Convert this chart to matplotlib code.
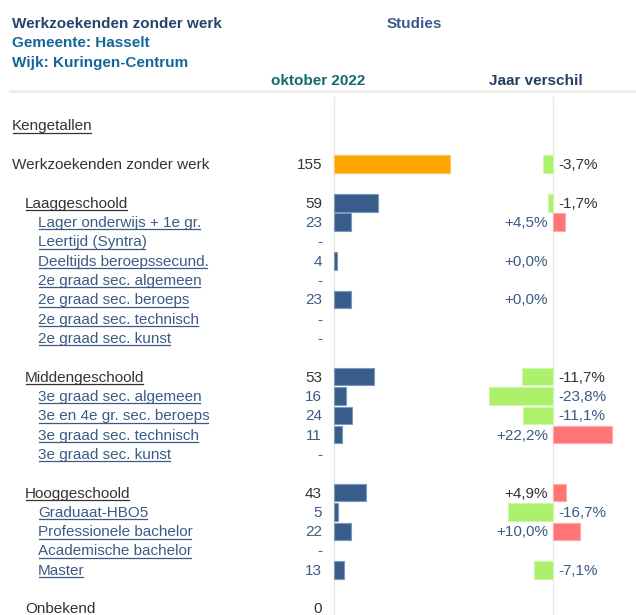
import matplotlib.pyplot as plt
from matplotlib.lines import Line2D

plt.rcParams["font.family"] = ["Liberation Sans", "DejaVu Sans"]

# rows of the table (row index = line position, blanks between groups)
labels = ["Kengetallen", "Werkzoekenden zonder werk",
          "Laaggeschoold", "Lager onderwijs + 1e gr.", "Leertijd (Syntra)",
          "Deeltijds beroepssecund.", "2e graad sec. algemeen",
          "2e graad sec. beroeps", "2e graad sec. technisch", "2e graad sec. kunst",
          "Middengeschoold", "3e graad sec. algemeen", "3e en 4e gr. sec. beroeps",
          "3e graad sec. technisch", "3e graad sec. kunst",
          "Hooggeschoold", "Graduaat-HBO5", "Professionele bachelor",
          "Academische bachelor", "Master",
          "Onbekend"]
rows = [0, 2, 4, 5, 6, 7, 8, 9, 10, 11, 13, 14, 15, 16, 17, 19, 20, 21, 22, 23, 25]
levels = [0, 0, 1, 2, 2, 2, 2, 2, 2, 2, 1, 2, 2, 2, 2, 1, 2, 2, 2, 2, 1]
underlined = [True, False, True, True, True, True, True, True, True, True,
              True, True, True, True, True, True, True, True, True, True, False]
counts = [None, 155, 59, 23, None, 4, None, 23, None, None,
          53, 16, 24, 11, None, 43, 5, 22, None, 13, 0]
diffs = [None, -3.7, -1.7, 4.5, None, 0.0, None, 0.0, None, None,
         -11.7, -23.8, -11.1, 22.2, None, 4.9, -16.7, 10.0, None, -7.1, None]

DARK = "#333333"
LINK = "#3b5b86"
W, H = 636, 615
BASE = 0.25  # text baseline below the row centre, in rows

fig = plt.figure(figsize=(W / 100, H / 100), dpi=100)

# one row = 19.33 px, row 0 sits at 125.4 px from the top
ylim = ((H - 125.4) / 19.33, -125.4 / 19.33)

ax_txt = fig.add_axes([0, 0, 1, 1])
ax_txt.set_xlim(0, W)
ax_txt.set_ylim(*ylim)
ax_txt.axis("off")

ax_cnt = fig.add_axes([0, 0, 1, 1])
ax_cnt.set_xlim(-334 / 0.75, (W - 334) / 0.75)
ax_cnt.set_ylim(*ylim)
ax_cnt.axis("off")

ax_dif = fig.add_axes([0, 0, 1, 1])
ax_dif.set_xlim(-553 / 2.68, (W - 553) / 2.68)
ax_dif.set_ylim(*ylim)
ax_dif.axis("off")

# header
fig.text(12 / W, 1 - 27.5 / H, "Werkzoekenden zonder werk", fontsize=11,
         fontweight="bold", color="#23466b", va="baseline")
fig.text(12 / W, 1 - 47 / H, "Gemeente: Hasselt", fontsize=11,
         fontweight="bold", color="#14679a", va="baseline")
fig.text(12 / W, 1 - 66.5 / H, "Wijk: Kuringen-Centrum", fontsize=11,
         fontweight="bold", color="#14679a", va="baseline")
fig.text(414 / W, 1 - 27.5 / H, "Studies", fontsize=11, fontweight="bold",
         color="#3a5a8a", va="baseline", ha="center")
fig.text(318 / W, 1 - 85 / H, "oktober 2022", fontsize=11, fontweight="bold",
         color="#136c6c", va="baseline", ha="center")
fig.text(536 / W, 1 - 85 / H, "Jaar verschil", fontsize=11, fontweight="bold",
         color="#23405f", va="baseline", ha="center")
fig.add_artist(Line2D([10 / W, 1], [1 - 90.5 / H] * 2, color="#eeeeee",
                      lw=2, transform=fig.transFigure))

# zero lines
top = 1 - 97 / H
ax_cnt.axvline(0, ymin=0, ymax=top, color="#e8e8e8", lw=1, zorder=0)
ax_dif.axvline(0, ymin=0, ymax=top, color="#e8e8e8", lw=1, zorder=0)

# count bars
cy = [r for r, c in zip(rows, counts) if c]
cv = [c for c in counts if c]
cc = ["#ffa500" if r == 2 else "#385d8a" for r in cy]
ce = ["#ffc55a" if r == 2 else "#7d98bd" for r in cy]
ax_cnt.barh(cy, cv, height=0.91, color=cc, edgecolor=ce, lw=0.8, zorder=2)

# year difference bars
dy = [r for r, d in zip(rows, diffs) if d]
dv = [d for d in diffs if d]
dc = ["#adf06c" if d < 0 else "#ff7575" for d in dv]
de = ["#cff7a8" if d < 0 else "#ffaaaa" for d in dv]
ax_dif.barh(dy, dv, height=0.91, color=dc, edgecolor=de, lw=0.8, zorder=2)

# texts
indent = {0: 12, 1: 25, 2: 38}
label_texts = []
for lab, r, lev, c, d in zip(labels, rows, levels, counts, diffs):
    col = LINK if lev == 2 else DARK
    t = ax_txt.text(indent[lev], r + BASE, lab, fontsize=11, color=col,
                    va="baseline")
    label_texts.append(t)
    if r == 0:
        continue
    ax_txt.text(322, r + BASE, "-" if c is None else str(c), fontsize=11,
                color=col, va="baseline", ha="right")
    if d is not None:
        s = f"{d:+.1f}%".replace(".", ",")
        if d < 0:
            ax_txt.text(558, r + BASE, s, fontsize=11, color=col, va="baseline")
        else:
            ax_txt.text(548, r + BASE, s, fontsize=11, color=col,
                        va="baseline", ha="right")

# underlines below the linked labels
fig.canvas.draw()
inv = fig.transFigure.inverted()
for t, r, u in zip(label_texts, rows, underlined):
    if not u:
        continue
    bb = t.get_window_extent()
    base = ax_txt.transData.transform((0, r + BASE))[1] - 2.5
    (x0, y0), (x1, _) = inv.transform([(bb.x0 + 0.5, base), (bb.x1 - 1.5, base)])
    fig.add_artist(Line2D([x0, x1], [y0, y0], color=t.get_color(), lw=0.9,
                          transform=fig.transFigure))

plt.savefig("out.png", dpi=100)
plt.close()
